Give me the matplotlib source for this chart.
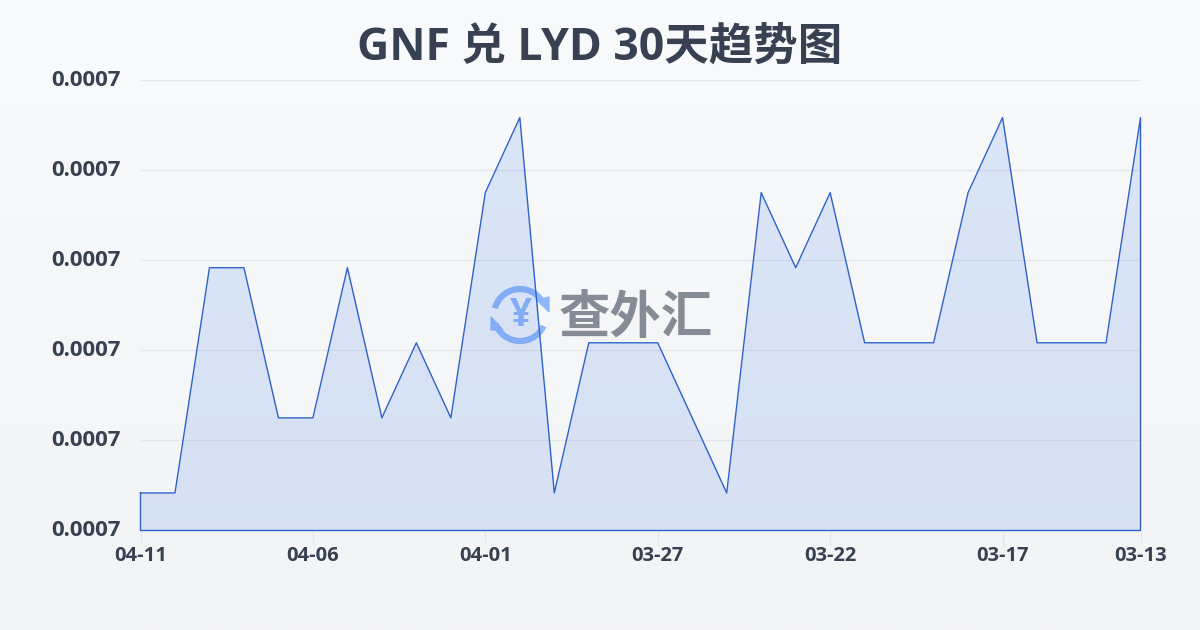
import numpy as np
import matplotlib
matplotlib.use('Agg')
import matplotlib.pyplot as plt
from matplotlib.patches import Arc, Polygon
from matplotlib.transforms import ScaledTranslation

plt.rcParams['font.family'] = ['Open Sans', 'Noto Sans CJK SC', 'DejaVu Sans']

# newest first, same order as the picture
dates = ['04-11', '04-10', '04-09', '04-08', '04-07', '04-06', '04-05', '04-04', '04-03', '04-02',
         '04-01', '03-31', '03-30', '03-29', '03-28', '03-27', '03-26', '03-25', '03-24', '03-23',
         '03-22', '03-21', '03-20', '03-19', '03-18', '03-17', '03-16', '03-15', '03-14', '03-13']
rates = [0.0007000, 0.0007000, 0.0007003, 0.0007003, 0.0007001, 0.0007001, 0.0007003, 0.0007001,
         0.0007002, 0.0007001, 0.0007004, 0.0007005, 0.0007000, 0.0007002, 0.0007002, 0.0007002,
         0.0007001, 0.0007000, 0.0007004, 0.0007003, 0.0007004, 0.0007002, 0.0007002, 0.0007002,
         0.0007004, 0.0007005, 0.0007002, 0.0007002, 0.0007002, 0.0007005]
y_min = 0.00069995
y_max = 0.00070055
y_ticks = [0.00069995, 0.00070007, 0.00070019, 0.00070031, 0.00070043, 0.00070055]
tick_every = 5

W, H = 1200, 630
dark = '#374151'
blue = '#2f62c9'
icon = '#8fb8f8'

fig = plt.figure(figsize=(W / 100, H / 100), dpi=100)

# background gradient
bg = fig.add_axes([0, 0, 1, 1], zorder=0)
bg.imshow(np.linspace(0, 1, 256).reshape(-1, 1),
          cmap=matplotlib.colors.LinearSegmentedColormap.from_list('bg', ['#f8fafc', '#f3f4f6']),
          aspect='auto', extent=[0, W, H, 0])
bg.set_xlim(0, W)
bg.set_ylim(H, 0)
bg.axis('off')

# watermark icon + name, under the chart
cx, cy, r = 520, 315, 26
bg.add_patch(Arc((cx, cy), 2 * r, 2 * r, theta1=195, theta2=335, color=icon, lw=4.5, zorder=3))
bg.add_patch(Arc((cx, cy), 2 * r, 2 * r, theta1=25, theta2=160, color=icon, lw=4.5, zorder=3))
bg.add_patch(Polygon([[537, 300], [549, 297], [549, 312]], color=icon, zorder=3))
bg.add_patch(Polygon([[491, 317], [503, 330], [491, 330]], color=icon, zorder=3))
bg.text(cx + 0.5, cy + 1, '¥', color=icon, fontsize=28, fontweight='bold', ha='center', va='center', zorder=3)
bg.text(636, 318, '查外汇', color='#868c96', fontsize=37, fontweight='bold', ha='center', va='center', zorder=3,
        family='Noto Sans CJK SC')

ax = fig.add_axes([140.5 / W, 1 - 530.5 / H, 1000 / W, 450.5 / H], zorder=1)
ax.patch.set_alpha(0)
x = np.arange(len(rates))
ax.fill_between(x, rates, y_min, color='#3d74e8', alpha=0.15, lw=0, zorder=2)
ax.plot(np.r_[x, x[-1], x[0], x[0]], np.r_[rates, y_min, y_min, rates[0]],
        color=blue, lw=1, zorder=3, clip_on=False)

ax.set_xlim(0, len(rates) - 1)
ax.set_ylim(y_min, y_max)
ax.set_yticks(y_ticks)
ax.set_yticklabels(['%.4f' % v for v in y_ticks], fontsize=16, fontweight='bold', color=dark)
ax.set_xticks(x[::tick_every].tolist() + [x[-1]])
ax.set_xticklabels(dates[::tick_every] + [dates[-1]], fontsize=14.5, fontweight='bold', color=dark)
ax.grid(axis='y', color='#e5e7eb', lw=1)
ax.set_axisbelow(True)
ax.tick_params(axis='y', length=0, pad=14.5)
ax.tick_params(axis='x', length=10, width=1, color='#e5e7eb', pad=1)
for s in ax.spines.values():
    s.set_visible(False)
# y labels sit a little above their grid lines
for t in ax.get_yticklabels():
    t.set_transform(t.get_transform() + ScaledTranslation(0, 2 / 100, fig.dpi_scale_trans))

fig.text(600 / W, 1 - 48.5 / H, 'GNF 兑 LYD 30天趋势图', color=dark, fontsize=32, fontweight='bold',
         ha='center', va='center')

fig.savefig('out.png', dpi=100)
